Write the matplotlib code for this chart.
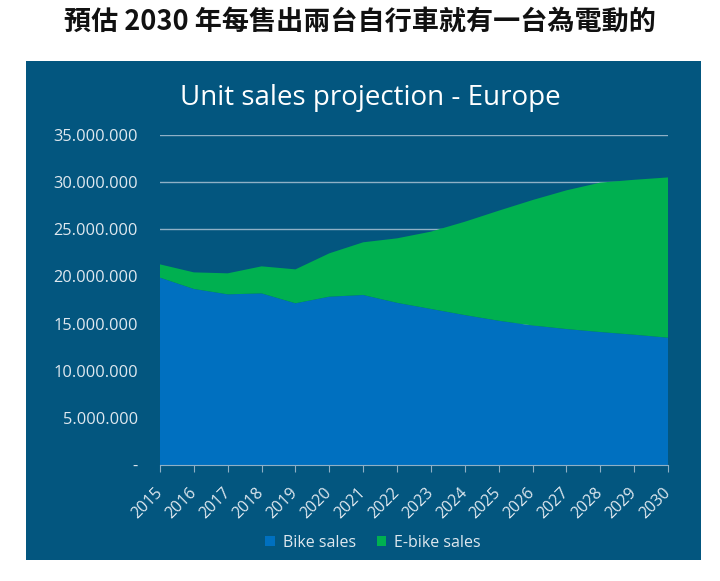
import matplotlib.pyplot as plt
import matplotlib as mpl
import numpy as np

# data (units)
years = list(range(2015, 2031))
bike_sales = [19.87, 18.67, 18.10, 18.20, 17.15, 17.85, 18.03, 17.20,
              16.55, 15.90, 15.30, 14.80, 14.42, 14.10, 13.82, 13.50]
total_sales = [21.28, 20.43, 20.33, 21.07, 20.75, 22.45, 23.62, 24.04,
               24.75, 25.80, 26.97, 28.10, 29.13, 29.95, 30.25, 30.50]
ebike_sales = [t - b for t, b in zip(total_sales, bike_sales)]
bike_sales = np.array(bike_sales) * 1e6
ebike_sales = np.array(ebike_sales) * 1e6
yticks = np.arange(0, 35e6 + 1, 5e6)

panel_col = '#03567f'
text_col = '#dfe8ef'
grid_col = '#8fb0c6'

plt.rcParams['font.family'] = ['Open Sans', 'DejaVu Sans']

fig = plt.figure(figsize=(7.2, 5.81), dpi=100)
fig.patch.set_facecolor('white')

# dark blue panel behind the chart
panel = mpl.patches.Rectangle((26 / 720, 21 / 581), 675 / 720, 499 / 581,
                              transform=fig.transFigure, facecolor=panel_col,
                              edgecolor='none', zorder=-10)
fig.patches.append(panel)

fig.text(0.5, 1 - 22 / 581, '預估 2030 年每售出兩台自行車就有一台為電動的',
         ha='center', va='center', fontsize=19.5, fontweight='bold', color='#111111',
         family=['Noto Sans CJK TC', 'DejaVu Sans'])
fig.text(370 / 720, 1 - 98 / 581, 'Unit sales projection - Europe', ha='center', va='center',
         fontsize=20, color='white')

ax = fig.add_axes([160 / 720, 116 / 581, 508 / 720, 330 / 581])
ax.set_facecolor('none')

ax.stackplot(years, bike_sales, ebike_sales, colors=['#0070c0', '#00b050'],
             labels=['Bike sales', 'E-bike sales'], zorder=3)

ax.set_xlim(2015, 2030)
ax.set_ylim(0, 35e6)
ax.set_yticks(yticks)
ax.set_yticklabels(['-'] + ['{:,.0f}'.format(v).replace(',', '.') for v in yticks[1:]])
ax.set_xticks(years)
ax.set_xticklabels([str(y) for y in years], rotation=45, ha='right', va='center',
                   rotation_mode='anchor')

ax.yaxis.grid(True, color=grid_col, linewidth=1.0, zorder=1)
ax.set_axisbelow(True)
for s in ['top', 'right', 'left']:
    ax.spines[s].set_visible(False)
ax.spines['bottom'].set_color(grid_col)
ax.spines['bottom'].set_zorder(4)
ax.tick_params(axis='y', length=0, pad=16, labelsize=11.8, labelcolor=text_col)
ax.tick_params(axis='x', length=5, color=grid_col, pad=13, labelsize=11.5, labelcolor=text_col)

leg = ax.legend(loc='center', ncol=2, frameon=False, fontsize=11.5,
                handlelength=0.6, handleheight=0.6, handletextpad=0.5, columnspacing=1.3,
                labelcolor=text_col)
leg.set_bbox_to_anchor((373 / 720, 1 - 543 / 581), transform=fig.transFigure)

fig.savefig('out.png', dpi=100, facecolor='white')
